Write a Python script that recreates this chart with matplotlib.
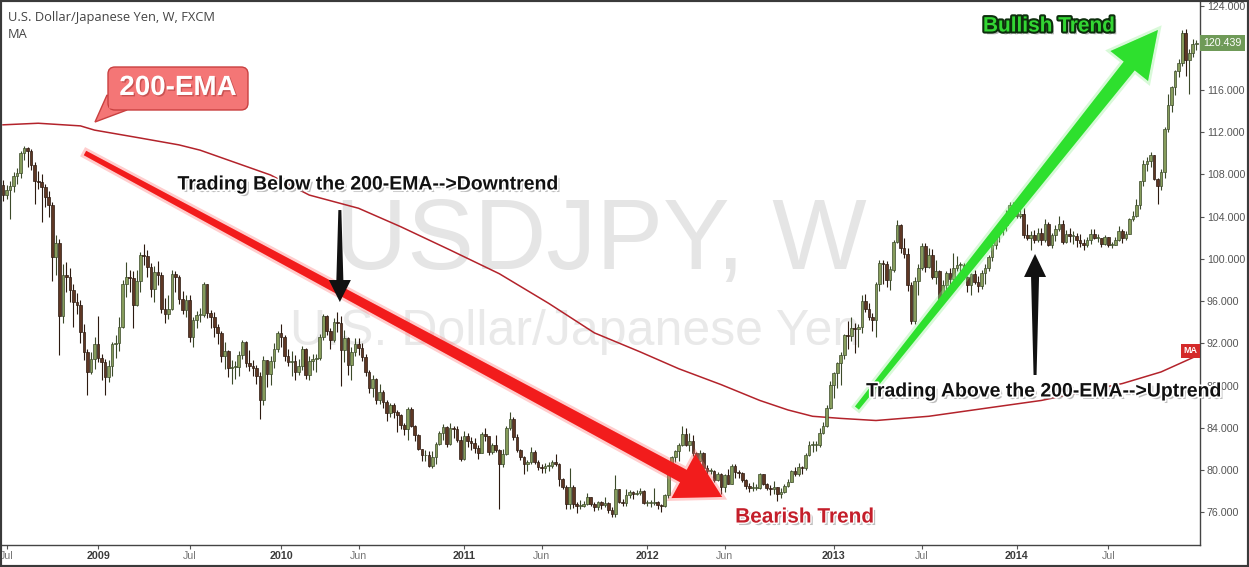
import numpy as np
import pandas as pd
import matplotlib
matplotlib.use("Agg")
import matplotlib.pyplot as plt
import matplotlib.patheffects as pe
from matplotlib.patches import Polygon, FancyBboxPatch, Rectangle
from matplotlib.transforms import IdentityTransform, blended_transform_factory

plt.rcParams['font.family'] = ['Liberation Sans', 'DejaVu Sans']

W, H = 1249, 567

# weekly USD/JPY bars, week starting 2008-06-30
first_open = 107.0
closes_2008 = [106.1, 106.5, 106.9, 107.9, 108.1, 110.0, 110.5, 110.2, 108.9, 107.4, 107.3, 106.8, 105.9,
               105.1, 100.2, 101.5, 94.6, 98.5, 98.3, 97.1, 95.9, 95.6, 93.1, 91.2, 89.3, 90.5]
highs_2008 = [107.5, 107.0, 107.4, 108.2, 108.6, 110.2, 110.7, 110.6, 110.4, 109.2, 108.3, 108.0, 107.1,
              106.4, 105.4, 102.3, 101.9, 99.5, 99.7, 99.1, 97.6, 96.8, 96.1, 93.8, 91.5, 91.2]
lows_2008 = [105.5, 105.7, 103.8, 106.3, 107.1, 107.7, 109.4, 108.7, 108.4, 105.2, 106.6, 103.5, 104.9,
             104.0, 97.9, 98.5, 90.9, 93.9, 96.9, 95.9, 93.6, 94.8, 92.0, 90.4, 87.1, 89.1]

closes_2009 = [91.9, 90.6, 90.2, 88.8, 89.9, 91.9, 92.0, 93.6, 97.6, 98.3, 98.2, 95.6, 97.9, 100.4, 100.3,
               99.2, 97.2, 98.8, 98.5, 95.3, 94.8, 95.3, 98.6, 98.3, 96.2, 95.2, 96.1, 92.6, 94.2, 94.7,
               94.7, 97.6, 94.9, 94.5, 93.6, 93.0, 90.8, 91.3, 89.7, 89.8, 89.8, 90.9, 92.1, 90.1, 89.9,
               89.7, 88.9, 86.6, 90.4, 89.1, 90.3, 91.5]
highs_2009 = [92.6, 94.6, 91.0, 90.5, 90.4, 92.1, 92.8, 94.5, 98.0, 99.7, 99.0, 98.9, 99.0, 100.7, 101.4,
              100.8, 99.6, 99.3, 99.8, 98.8, 96.3, 96.6, 99.0, 98.9, 98.5, 97.0, 96.6, 96.6, 94.5, 95.1,
              95.4, 97.8, 97.6, 95.2, 95.0, 93.8, 93.2, 92.1, 91.4, 90.4, 90.3, 91.3, 92.3, 92.2, 91.4,
              90.4, 90.0, 89.3, 90.8, 90.4, 90.8, 92.0]
lows_2009 = [89.6, 90.2, 88.5, 87.1, 88.3, 88.9, 90.6, 91.3, 93.5, 96.4, 96.9, 93.5, 95.5, 96.9, 99.4,
             98.3, 96.4, 95.9, 97.5, 94.9, 93.9, 94.3, 95.2, 96.9, 95.7, 94.8, 94.5, 92.1, 91.7, 93.5,
             94.0, 94.5, 94.4, 93.5, 92.6, 91.9, 90.2, 89.6, 88.8, 88.2, 88.6, 88.9, 90.5, 89.8, 89.4,
             88.9, 88.2, 84.8, 86.2, 87.9, 88.1, 89.7]

closes_2010 = [93.0, 92.6, 90.8, 90.2, 90.3, 89.3, 89.9, 91.5, 89.0, 90.3, 90.5, 90.6, 92.6, 94.6, 93.2,
               92.3, 94.0, 93.9, 91.4, 92.5, 90.0, 91.2, 91.9, 91.6, 90.7, 89.3, 87.8, 88.6, 86.6, 87.4,
               86.5, 85.4, 86.2, 85.5, 85.2, 84.3, 83.9, 85.8, 84.2, 83.3, 82.0, 81.4, 81.4, 80.4, 81.2,
               82.5, 83.5, 84.1, 82.5, 84.0, 83.9, 82.9, 81.1]
highs_2010 = [93.2, 93.8, 92.8, 91.5, 91.3, 90.9, 90.5, 91.8, 91.6, 90.8, 91.0, 91.0, 92.9, 94.8, 94.7,
              93.5, 94.4, 95.0, 94.6, 93.3, 92.6, 91.7, 92.5, 92.5, 92.0, 91.0, 89.5, 89.0, 88.7, 88.2,
              87.6, 86.6, 86.4, 86.4, 85.7, 85.3, 84.5, 86.0, 86.0, 84.3, 83.4, 82.0, 81.9, 81.8, 81.8,
              82.7, 83.7, 84.4, 84.2, 84.5, 84.2, 84.2, 83.2]
lows_2010 = [91.2, 91.7, 90.3, 89.9, 88.9, 88.5, 89.0, 89.5, 88.6, 88.5, 89.5, 89.3, 90.4, 92.3, 92.8,
             91.5, 92.1, 93.1, 88.0, 90.2, 89.0, 88.5, 90.8, 90.9, 90.3, 88.9, 87.3, 86.9, 86.3, 86.3,
             85.9, 84.7, 85.0, 84.9, 83.6, 83.9, 83.3, 82.9, 84.1, 82.8, 81.9, 80.9, 80.9, 80.3, 80.2,
             80.6, 82.4, 82.9, 82.2, 82.4, 83.0, 82.7, 80.9]

closes_2011 = [83.2, 82.8, 82.6, 82.1, 81.6, 83.4, 83.2, 81.7, 82.4, 81.9, 80.6, 81.5, 84.0, 84.8, 83.1,
               81.9, 81.2, 80.6, 80.8, 81.7, 80.8, 80.3, 80.2, 80.4, 80.4, 80.8, 80.6, 79.2, 78.4, 76.8,
               78.4, 76.8, 76.6, 76.6, 76.8, 77.5, 76.8, 76.5, 77.0, 76.7, 76.9, 76.2, 75.8, 78.2, 77.0,
               76.9, 77.6, 77.9, 77.7, 77.8, 78.0, 76.9]
highs_2011 = [83.7, 83.5, 83.1, 83.0, 82.4, 83.6, 84.0, 83.2, 82.6, 83.3, 82.0, 82.0, 84.2, 85.5, 85.0,
              83.4, 82.0, 81.3, 81.0, 82.2, 81.9, 81.0, 80.6, 80.7, 80.8, 81.0, 81.5, 80.7, 79.3, 78.6,
              80.2, 78.6, 77.0, 77.2, 77.1, 77.8, 77.5, 77.0, 77.1, 77.1, 77.5, 77.0, 76.5, 79.5, 78.2,
              77.3, 78.2, 78.1, 78.0, 78.1, 78.3, 78.1]
lows_2011 = [81.0, 82.2, 81.9, 81.6, 81.1, 81.6, 82.8, 81.4, 81.5, 81.7, 76.3, 80.3, 81.4, 83.8, 82.9,
             81.7, 81.0, 79.6, 79.9, 80.6, 80.6, 80.0, 79.7, 79.7, 79.9, 80.2, 80.4, 78.5, 78.2, 76.3,
             76.3, 76.4, 75.9, 76.3, 76.5, 76.7, 76.6, 76.1, 76.2, 76.3, 76.5, 75.9, 75.6, 75.6, 76.9,
             76.6, 76.6, 77.4, 77.3, 77.6, 77.6, 76.8]

closes_2012 = [76.9, 76.9, 77.0, 76.7, 76.6, 77.6, 79.6, 81.2, 81.8, 82.4, 83.4, 82.4, 82.8, 81.6, 80.9,
               81.6, 80.2, 79.9, 79.9, 79.1, 79.6, 78.4, 79.5, 78.7, 80.4, 79.8, 79.7, 79.1, 78.5, 78.3,
               78.3, 78.3, 79.6, 78.7, 78.3, 78.2, 78.4, 77.7, 77.9, 78.5, 78.9, 79.9, 79.6, 80.3, 80.2,
               81.4, 82.4, 82.4, 82.4, 83.5, 84.2, 85.9]
highs_2012 = [77.2, 77.2, 78.3, 77.1, 76.8, 77.7, 79.7, 81.3, 81.9, 82.6, 84.2, 84.0, 83.5, 83.3, 81.7,
              81.9, 81.7, 80.5, 80.2, 80.0, 79.8, 79.7, 79.6, 80.1, 80.6, 80.6, 80.0, 79.8, 79.2, 78.8,
              78.9, 78.7, 79.7, 79.6, 78.8, 78.6, 79.0, 78.4, 78.3, 78.7, 79.2, 80.0, 80.3, 80.7, 80.4,
              81.6, 82.8, 82.8, 82.8, 84.0, 84.6, 86.2]
lows_2012 = [76.6, 76.5, 76.7, 76.3, 76.0, 76.5, 77.4, 79.5, 80.8, 80.9, 82.3, 82.3, 81.8, 81.3, 80.3,
             80.8, 80.1, 79.6, 79.6, 78.9, 79.0, 77.7, 77.9, 78.7, 78.7, 79.3, 79.3, 78.9, 78.2, 77.9,
             78.0, 78.1, 78.2, 78.6, 78.1, 77.6, 77.7, 77.1, 77.4, 77.8, 78.4, 78.9, 79.4, 79.4, 79.6,
             80.0, 81.3, 81.7, 81.8, 82.2, 83.4, 84.1]

closes_2013 = [88.1, 89.2, 90.1, 90.9, 92.8, 92.7, 93.5, 93.4, 93.6, 96.0, 95.3, 94.5, 94.2, 97.6, 99.6,
               99.5, 98.0, 99.0, 101.6, 103.2, 101.0, 100.5, 97.5, 94.1, 97.9, 99.1, 101.2, 99.2, 100.4,
               98.3, 98.9, 96.2, 97.5, 98.7, 98.1, 99.1, 99.4, 99.4, 98.3, 97.5, 98.6, 97.8, 97.4, 98.7,
               99.1, 100.2, 101.3, 102.4, 102.9, 103.2, 104.1, 105.1]
highs_2013 = [88.4, 89.3, 90.2, 91.2, 92.9, 94.1, 94.5, 93.9, 93.8, 96.6, 96.7, 95.8, 94.9, 97.8, 99.9,
              99.9, 99.8, 99.3, 101.8, 103.7, 103.3, 102.0, 101.0, 97.8, 98.3, 99.5, 101.5, 101.5, 101.0,
              100.9, 99.9, 99.0, 98.0, 98.9, 99.1, 100.6, 100.3, 99.7, 99.6, 98.4, 98.7, 99.0, 98.4, 99.0,
              99.5, 100.4, 101.4, 102.6, 103.4, 103.4, 104.6, 105.4]
lows_2013 = [85.8, 86.8, 87.8, 88.1, 90.5, 91.5, 92.2, 91.1, 91.7, 93.0, 95.0, 94.2, 93.2, 92.6, 97.0,
             97.6, 97.3, 97.1, 98.8, 101.5, 100.6, 100.1, 97.0, 93.8, 93.8, 96.6, 99.0, 98.8, 99.1,
             98.1, 97.6, 95.8, 95.8, 96.8, 96.8, 98.0, 98.9, 97.8, 98.1, 96.9, 96.6, 97.6, 96.9, 97.2,
             97.6, 98.9, 99.8, 100.9, 101.6, 102.3, 102.6, 103.8]

closes_2014 = [104.8, 104.1, 104.3, 102.3, 102.0, 102.3, 101.8, 102.5, 101.8, 103.3, 101.3, 102.3, 102.8,
               103.3, 101.6, 102.4, 102.2, 102.2, 101.8, 101.5, 101.3, 101.8, 102.4, 102.0, 102.0, 101.4,
               102.1, 101.3, 101.3, 101.8, 102.6, 102.0, 102.4, 103.8, 104.1, 105.1, 107.4, 109.0, 109.3,
               109.8, 107.6, 106.9, 108.2, 112.3, 114.6, 116.3, 117.8, 118.6, 121.4, 118.8, 119.5, 120.4,
               120.439]
highs_2014 = [105.4, 105.0, 105.0, 104.8, 103.3, 102.6, 102.7, 102.9, 102.9, 103.8, 103.5, 102.5, 103.2,
              104.1, 103.7, 102.7, 102.9, 102.6, 102.5, 102.4, 101.9, 102.1, 102.8, 102.8, 102.4, 102.0,
              102.3, 102.1, 101.6, 102.1, 103.1, 102.8, 102.6, 103.9, 104.5, 105.7, 107.4, 109.4, 109.7,
              110.1, 109.8, 107.7, 108.5, 112.5, 115.6, 116.4, 117.9, 118.9, 121.7, 121.8, 119.9, 120.8,
              120.7]
lows_2014 = [104.1, 103.9, 103.9, 102.0, 101.8, 100.8, 101.5, 101.6, 101.3, 101.6, 101.2, 101.0, 101.7,
             102.6, 101.4, 101.5, 101.6, 101.4, 101.1, 101.1, 100.8, 101.1, 101.4, 101.9, 101.6, 101.1,
             101.3, 101.1, 101.0, 101.3, 101.7, 101.5, 101.8, 102.4, 103.6, 104.0, 104.7, 106.9, 108.3,
             108.7, 107.5, 105.2, 106.5, 107.7, 112.0, 113.9, 115.5, 117.2, 118.3, 117.3, 115.6, 119.1,
             119.8]

# 200-week EMA (bar index, value)
ma_idx = [0, 10, 22, 26, 39, 50, 56, 76, 87, 101, 113, 127, 141, 155, 168, 181, 192, 204, 215, 223,
          230, 238, 248, 263, 280, 295, 318, 329, 339]
ma_val = [112.7, 112.85, 112.6, 112.2, 111.45, 110.8, 110.3, 107.95, 106.05, 104.8, 103.05, 100.85,
          98.6, 95.8, 93.0, 91.2, 89.6, 88.1, 86.6, 85.7, 85.1, 84.9, 84.7, 85.1, 85.9, 86.6, 88.2,
          89.3, 90.8]

price_ticks = list(range(76, 125, 4))
time_ticks = [(2008, 7, 'Jul'), (2009, 1, '2009'), (2009, 7, 'Jul'), (2010, 1, '2010'), (2010, 6, 'Jun'),
              (2011, 1, '2011'), (2011, 6, 'Jun'), (2012, 1, '2012'), (2012, 6, 'Jun'), (2013, 1, '2013'),
              (2013, 7, 'Jul'), (2014, 1, '2014'), (2014, 7, 'Jul')]

closes = np.array(closes_2008 + closes_2009 + closes_2010 + closes_2011 + closes_2012 + closes_2013 + closes_2014)
highs = np.array(highs_2008 + highs_2009 + highs_2010 + highs_2011 + highs_2012 + highs_2013 + highs_2014)
lows = np.array(lows_2008 + lows_2009 + lows_2010 + lows_2011 + lows_2012 + lows_2013 + lows_2014)
opens = np.concatenate([[first_open], closes[:-1]])
highs = np.maximum(highs, np.maximum(opens, closes))
lows = np.minimum(lows, np.minimum(opens, closes))
n = len(closes)
idx = np.arange(n)
week_start = pd.date_range('2008-06-30', periods=n, freq='7D')

fig = plt.figure(figsize=(W / 100, H / 100), dpi=100)
fig.patch.set_facecolor('white')
ax = fig.add_axes([2 / W, (H - 545) / H, 1198 / W, 543 / H])
ax.set_facecolor('white')
ax.set_xlim(-0.284, 340.06)
ax.set_ylim(124 - (545 - 5.5) / 10.56, 124 + 3.5 / 10.56)

# watermark
ax.text(169.9, 101.5, 'USDJPY, W', ha='center', va='center', fontsize=72, color='#e5e5e5', zorder=0)
ax.text(162.5, 93.1, 'U.S. Dollar/Japanese Yen', ha='center', va='center', fontsize=36,
        color='#e9e9e9', zorder=0)

# moving average
ax.plot(ma_idx, ma_val, color='#b3232b', lw=1.1, zorder=2)

# candles
up = closes >= opens
edge = np.where(up, '#3c4a2a', '#2c1a10')
ax.vlines(idx, lows, highs, colors=edge, linewidth=0.8, zorder=3)
ax.bar(idx, np.maximum(np.abs(closes - opens), 0.08), bottom=np.minimum(opens, closes), width=0.76,
       color=np.where(up, '#869c5c', '#5e3724'), edgecolor=edge, linewidth=0.5, zorder=4)

# axes
for s in ['top', 'left']:
    ax.spines[s].set_visible(False)
for s in ['right', 'bottom']:
    ax.spines[s].set_color('#444444')
    ax.spines[s].set_linewidth(1.0)
ax.yaxis.tick_right()
ax.set_yticks(price_ticks)
# the 120 label sits under the last-price tag, as in the source
ax.set_yticklabels(['' if v == 120 else f'{v:.3f}' for v in price_ticks])
ax.tick_params(axis='y', direction='out', length=3, color='#555555', labelsize=7.7,
               labelcolor='#555555', pad=2)
tick_pos = [int(np.argmax((week_start.year == y) & (week_start.month == m))) for y, m, _ in time_ticks]
ax.set_xticks(tick_pos)
ax.set_xticklabels([t[2] for t in time_ticks])
ax.tick_params(axis='x', direction='out', length=3, color='#555555', labelsize=7.7, pad=1.5)
for lab, t in zip(ax.get_xticklabels(), time_ticks):
    if t[2].isdigit():
        lab.set_color('#3a3a3a')
        lab.set_fontweight('bold')
    else:
        lab.set_color('#777777')

# price labels on the scale
yb = blended_transform_factory(ax.transAxes, ax.transData)
ax.text(1.003, closes[-1], f'{closes[-1]:.3f}', transform=yb, ha='left', va='center', fontsize=7.7,
        color='white', zorder=20, clip_on=False,
        bbox=dict(boxstyle='square,pad=0.3', fc='#6f9a58', ec='none'))
ax.text(0.998, 91.3, 'MA', transform=yb, ha='right', va='center', fontsize=6.5, fontweight='bold',
        color='white', zorder=20, bbox=dict(boxstyle='square,pad=0.3', fc='#d42a2a', ec='none'))


def tapered_arrow(tail, tip, w_tail, w_neck, head_w, head_l, color, glow=None, z=6):
    p0 = ax.transData.transform(tail)
    p1 = ax.transData.transform(tip)
    d = (p1 - p0) / np.hypot(*(p1 - p0))
    nv = np.array([-d[1], d[0]])
    base = p1 - d * head_l
    pts = [p0 + nv * w_tail / 2, base + nv * w_neck / 2, base + nv * head_w / 2, p1,
           base - nv * head_w / 2, base - nv * w_neck / 2, p0 - nv * w_tail / 2]
    poly = Polygon(ax.transData.inverted().transform(np.array(pts)), closed=True,
                   fc=color, ec='none', zorder=z)
    if glow:
        poly.set_path_effects([pe.Stroke(linewidth=4, foreground=glow, alpha=0.35), pe.Normal()])
    ax.add_patch(poly)


tapered_arrow((23.3, 110.03), (204.3, 77.46), 5, 14, 50, 44, '#f21c1c', glow='#ff7070')
tapered_arrow((242.6, 85.88), (328.1, 121.68), 5, 14, 48, 46, '#2ee02e', glow='#90f090')
tapered_arrow((95.7, 104.63), (95.7, 95.92), 3, 7, 22, 22, '#111111', z=7)
tapered_arrow((293.2, 89.01), (293.2, 100.47), 3, 8, 22, 23, '#111111', z=7)

shadow = pe.SimplePatchShadow(offset=(1.8, -1.8), shadow_rgbFace='#8a8a8a', alpha=0.55)
ax.text(103.7, 107.0, 'Trading Below the 200-EMA-->Downtrend', ha='center', va='center', fontsize=14,
        fontweight='bold', color='#111111', zorder=9,
        path_effects=[shadow, pe.Stroke(linewidth=2.5, foreground='white'), pe.Normal()])
ax.text(245.2, 87.4, 'Trading Above the 200-EMA-->Uptrend', ha='left', va='center', fontsize=14,
        fontweight='bold', color='#111111', zorder=21, clip_on=False,
        path_effects=[shadow, pe.Stroke(linewidth=2.5, foreground='white'), pe.Normal()])
ax.text(208.0, 75.56, 'Bearish Trend', ha='left', va='center', fontsize=15, fontweight='bold',
        color='#c41e2a', zorder=9,
        path_effects=[shadow, pe.Stroke(linewidth=2, foreground='white'), pe.Normal()])
ax.text(278.4, 122.06, 'Bullish Trend', ha='left', va='center', fontsize=15, fontweight='bold',
        color='#33d633', zorder=9,
        path_effects=[pe.SimplePatchShadow(offset=(2, -2), shadow_rgbFace='#666666', alpha=0.5),
                      pe.Stroke(linewidth=3, foreground='#0d2e0d'), pe.Normal()])


# "200-EMA" speech bubble (reference pixel positions, origin top-left)
def disp(x, y):
    return (x, H - y)


pointer = Polygon([disp(107, 95), disp(127, 110), disp(95, 122)], closed=True, fc='#f47676',
                  ec='#c94040', lw=1.0, transform=IdentityTransform(), zorder=10)
fig.add_artist(pointer)
bubble = FancyBboxPatch(disp(108, 110), 140, 43, boxstyle='round,pad=0,rounding_size=7', fc='#f47676',
                        ec='#c94040', lw=1.0, transform=IdentityTransform(), zorder=11)
fig.add_artist(bubble)
fig.add_artist(Polygon([disp(109, 99), disp(124, 108.5), disp(109, 108.5)], closed=True, fc='#f47676',
                       ec='none', transform=IdentityTransform(), zorder=12))
fig.text(178 / W, 1 - 88 / H, '200-EMA', ha='center', va='center', fontsize=20, fontweight='bold',
         color='white', zorder=13,
         path_effects=[pe.SimplePatchShadow(offset=(1, -1), shadow_rgbFace='#a03030', alpha=0.5),
                       pe.Normal()])

# header
fig.text(8 / W, 1 - 17 / H, 'U.S. Dollar/Japanese Yen, W, FXCM', ha='left', va='center', fontsize=9.3,
         color='#444444', family=['Open Sans', 'DejaVu Sans'])
fig.text(8 / W, 1 - 34 / H, 'MA', ha='left', va='center', fontsize=9.3, color='#444444',
         family=['Open Sans', 'DejaVu Sans'])

fig.add_artist(Rectangle((0, 0), 1, 1, transform=fig.transFigure, fill=False, ec='#3a3a3a', lw=3,
                         zorder=100))

fig.savefig('out.png', dpi=100, facecolor='white')
